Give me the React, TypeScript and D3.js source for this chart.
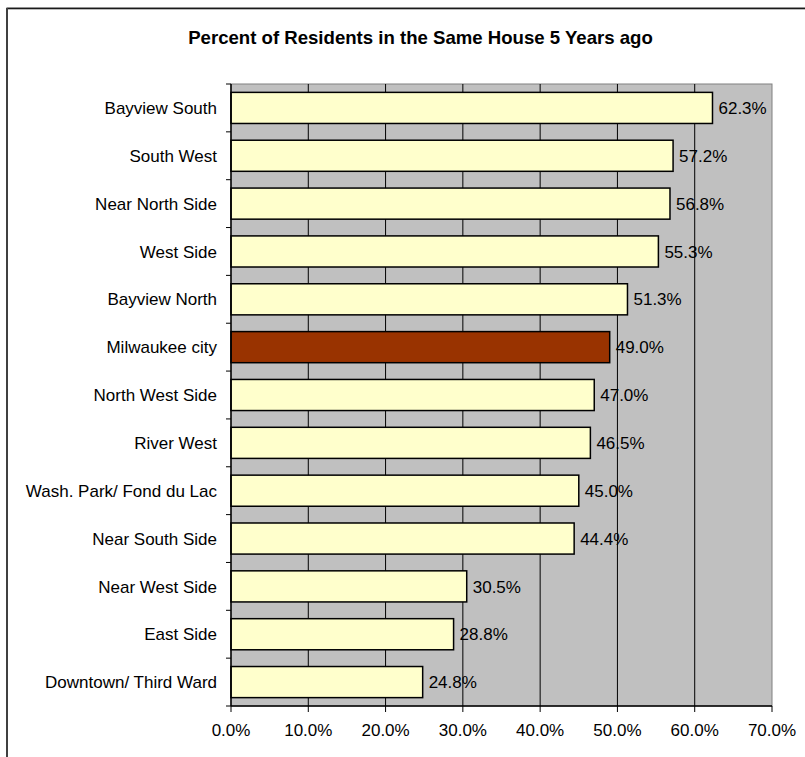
import React from "react";
import * as d3 from "d3";

const categories = [
  "Bayview South",
  "South West",
  "Near North Side",
  "West Side",
  "Bayview North",
  "Milwaukee city",
  "North West Side",
  "River West",
  "Wash. Park/ Fond du Lac",
  "Near South Side",
  "Near West Side",
  "East Side",
  "Downtown/ Third Ward",
];
const values = [62.3, 57.2, 56.8, 55.3, 51.3, 49.0, 47.0, 46.5, 45.0, 44.4, 30.5, 28.8, 24.8];
const highlight = "Milwaukee city";
const xTicks = [0, 10, 20, 30, 40, 50, 60, 70];
const title = "Percent of Residents in the Same House 5 Years ago";

const W = 805;
const H = 757;
const plot = { left: 231, right: 772, top: 84, bottom: 706 };
const FONT = "'Liberation Sans', Arial, sans-serif";

export default function App() {
  const x = d3.scaleLinear().domain([0, 70]).range([plot.left, plot.right]);
  const y = d3
    .scaleBand<string>()
    .domain(categories)
    .range([plot.top, plot.bottom])
    .paddingInner(0.35)
    .paddingOuter(0.175);
  const step = y.step();
  const boundaries = d3.range(categories.length + 1).map((i) => plot.top + i * step);

  return (
    <svg
      width={W}
      height={H}
      style={{ position: "absolute", left: 0, top: 0, background: "#fff" }}
      fontFamily={FONT}
    >
      {/* outer border */}
      <line x1={7} y1={7.5} x2={W} y2={7.5} stroke="#c8c8c8" strokeWidth={1} />
      <rect x={7} y={8.5} width={W + 20} height={H + 20} fill="none" stroke="#1a1a1a" strokeWidth={1.6} />
      <line x1={7} y1={8} x2={7} y2={H} stroke="#404040" strokeWidth={2} />

      <text x={420.5} y={44} textAnchor="middle" fontSize={18.6} fontWeight="bold" fill="#000">
        {title}
      </text>

      {/* plot area */}
      <rect
        x={plot.left}
        y={plot.top}
        width={plot.right - plot.left}
        height={plot.bottom - plot.top}
        fill="#c0c0c0"
        stroke="#808080"
        strokeWidth={1}
      />
      {xTicks.slice(1, -1).map((t) => (
        <line key={t} x1={x(t)} x2={x(t)} y1={plot.top} y2={plot.bottom} stroke="#000" strokeWidth={1} />
      ))}

      {/* bars */}
      {categories.map((c, i) => (
        <rect
          key={c}
          x={x(0)}
          y={y(c)!}
          width={x(values[i]) - x(0)}
          height={y.bandwidth()}
          fill={c === highlight ? "#993300" : "#ffffcc"}
          stroke="#000"
          strokeWidth={1.5}
        />
      ))}

      {/* value labels */}
      {categories.map((c, i) => (
        <text
          key={c}
          x={x(values[i]) + 6}
          y={y(c)! + y.bandwidth() / 2}
          dy="0.36em"
          fontSize={17}
          fill="#000"
        >
          {values[i].toFixed(1) + "%"}
        </text>
      ))}

      {/* axes */}
      <line x1={plot.left} x2={plot.left} y1={plot.top} y2={plot.bottom} stroke="#000" strokeWidth={1.5} />
      <line x1={plot.left} x2={plot.right} y1={plot.bottom} y2={plot.bottom} stroke="#000" strokeWidth={1.5} />
      {boundaries.map((b, i) => (
        <line key={i} x1={plot.left - 5} x2={plot.left} y1={b} y2={b} stroke="#000" strokeWidth={1} />
      ))}
      {xTicks.map((t) => (
        <g key={t}>
          <line x1={x(t)} x2={x(t)} y1={plot.bottom} y2={plot.bottom + 6} stroke="#000" strokeWidth={1} />
          <text x={x(t)} y={730} dy="0.36em" textAnchor="middle" fontSize={17} fill="#000">
            {t.toFixed(1) + "%"}
          </text>
        </g>
      ))}

      {/* category labels */}
      {categories.map((c) => (
        <text
          key={c}
          x={217}
          y={y(c)! + y.bandwidth() / 2}
          dy="0.36em"
          textAnchor="end"
          fontSize={17}
          fill="#000"
        >
          {c}
        </text>
      ))}
    </svg>
  );
}
